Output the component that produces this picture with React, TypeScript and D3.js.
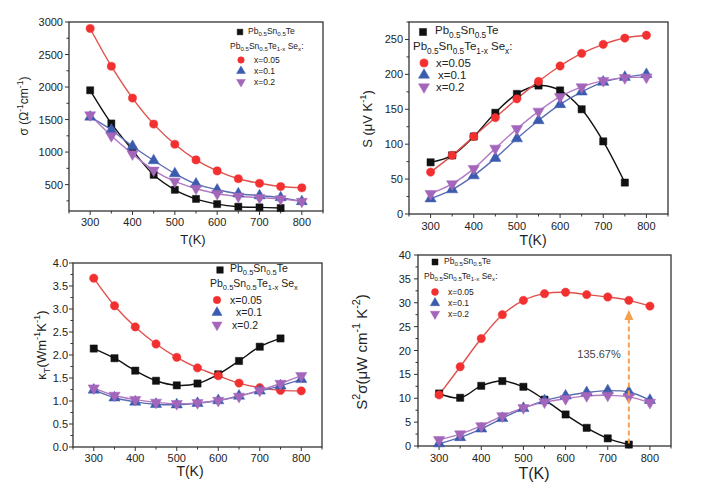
import React from "react";
import * as d3 from "d3";

// ---------- DATA ----------
const T_ALL = [300, 350, 400, 450, 500, 550, 600, 650, 700, 750, 800];
const T_REF = [300, 350, 400, 450, 500, 550, 600, 650, 700, 750];

// (a) electrical conductivity
const sigmaRef = [1950, 1440, 1030, 650, 420, 280, 200, 160, 150, 140];
const sigma005 = [2900, 2320, 1830, 1430, 1120, 880, 710, 590, 520, 470, 450];
const sigma01 = [1540, 1340, 1090, 870, 670, 510, 420, 360, 330, 300, 240];
const sigma02 = [1570, 1250, 970, 720, 550, 440, 360, 320, 300, 280, 240];

// (b) Seebeck
const seebeckRef = [74, 84, 111, 145, 172, 184, 177, 150, 104, 45];
const seebeck005 = [60, 84, 111, 138, 165, 190, 212, 230, 243, 252, 256];
const seebeck01 = [22, 35, 55, 80, 108, 134, 157, 175, 189, 196, 200];
const seebeck02 = [29, 43, 65, 94, 122, 147, 168, 182, 191, 195, 196];

// (c) thermal conductivity
const kappaRef = [2.14, 1.93, 1.66, 1.44, 1.34, 1.38, 1.58, 1.87, 2.18, 2.36];
const kappa005 = [3.67, 3.07, 2.61, 2.24, 1.95, 1.72, 1.55, 1.39, 1.29, 1.23, 1.22];
const kappa01 = [1.24, 1.07, 0.98, 0.93, 0.92, 0.95, 1.01, 1.11, 1.22, 1.33, 1.47];
const kappa02 = [1.28, 1.12, 1.03, 0.97, 0.94, 0.96, 1.01, 1.1, 1.23, 1.38, 1.55];

// (d) power factor
const pfRef = [11, 10.1, 12.6, 13.6, 12.4, 9.7, 6.6, 3.8, 1.6, 0.3];
const pf005 = [10.7, 16.6, 22.5, 27.5, 30.5, 31.9, 32.2, 31.7, 31.2, 30.5, 29.3];
const pf01 = [0.5, 1.8, 3.6, 5.8, 7.9, 9.5, 10.5, 11.2, 11.6, 11.3, 9.6];
const pf02 = [1.3, 2.5, 4.2, 6.3, 8.0, 9.2, 9.9, 10.5, 10.6, 10.3, 9.1];

const xTicks = [300, 400, 500, 600, 700, 800];
const sigmaTicks = [500, 1000, 1500, 2000, 2500, 3000];
const seebeckTicks = [0, 50, 100, 150, 200, 250];
const kappaTicks = [0, 0.5, 1, 1.5, 2, 2.5, 3, 3.5, 4];
const pfTicks = [0, 5, 10, 15, 20, 25, 30, 35, 40];

const legendLabels = ["x=0.05", "x=0.1", "x=0.2"];
const arrowT = 750;
const arrowFrom = 0.5;
const arrowTo = 28.5;
const arrowLabel = "135.67%";

// ---------- STYLE ----------
const FONT = "Liberation Sans, Arial, sans-serif";
const COLORS: any = {
  ref: { m: "#111111", l: "#111111" },
  a: { m: "#f23030", l: "#e0504c" },
  b: { m: "#3b5cae", l: "#5b6db2" },
  c: { m: "#a466bb", l: "#b278c4" },
};

type Seg = [string, "n" | "sub" | "sup"];

function Rich({ segs, x, y, fs, anchor = "start", rotate, fill = "#222" }: any) {
  const parts: any[] = [];
  let prev: string = "n";
  const off = (k: string) => (k === "sub" ? 0.3 : k === "sup" ? -0.45 : 0);
  segs.forEach((s: Seg, i: number) => {
    const [txt, kind] = s;
    const dy = (off(kind) - off(prev)) * fs;
    parts.push(
      <tspan key={i} dy={dy} fontSize={kind === "n" ? fs : fs * 0.72}>
        {txt}
      </tspan>
    );
    prev = kind;
  });
  return (
    <text
      x={x}
      y={y}
      fontFamily={FONT}
      fontSize={fs}
      textAnchor={anchor}
      fill={fill}
      transform={rotate ? `rotate(-90 ${x} ${y})` : undefined}
    >
      {parts}
    </text>
  );
}

const refSegs: Seg[] = [["Pb", "n"], ["0.5", "sub"], ["Sn", "n"], ["0.5", "sub"], ["Te", "n"]];
const alloySegs = (colon: boolean): Seg[] => [
  ["Pb", "n"], ["0.5", "sub"], ["Sn", "n"], ["0.5", "sub"], ["Te", "n"], ["1-x", "sub"],
  [" Se", "n"], ["x", "sub"], [colon ? ":" : "", "n"],
];

function markerPath(kind: string, size: number) {
  if (kind === "ref") return d3.symbol().type(d3.symbolSquare).size(size)()!;
  if (kind === "a") return d3.symbol().type(d3.symbolCircle).size(size * 1.05)()!;
  return d3.symbol().type(d3.symbolTriangle).size(size * 1.05)()!;
}

function Marker({ kind, x, y, size }: any) {
  const rot = kind === "c" ? ` rotate(180)` : "";
  return (
    <path
      d={markerPath(kind, size)}
      transform={`translate(${x},${y})${rot}`}
      fill={COLORS[kind].m}
      stroke={COLORS[kind].m}
      strokeWidth={0.5}
    />
  );
}

function Panel(p: any) {
  const x = d3.scaleLinear().domain([250, 850]).range([p.x0, p.x1]);
  const y = d3.scaleLinear().domain(p.yDomain).range([p.y1, p.y0]);
  const line = d3
    .line<[number, number]>()
    .x((d) => x(d[0]))
    .y((d) => y(d[1]))
    .curve(d3.curveCatmullRom.alpha(0.5));
  const series = [
    { k: "ref", t: T_REF, v: p.refData },
    { k: "a", t: T_ALL, v: p.a },
    { k: "b", t: T_ALL, v: p.b },
    { k: "c", t: T_ALL, v: p.c },
  ];
  const xMinor = d3.range(250, 851, 50);
  const yStep = p.yTicks[1] - p.yTicks[0];
  const half = yStep / 2;
  const yMinorAll = d3.range(Math.ceil(p.yDomain[0] / half - 1e-9) * half, p.yDomain[1] + 1e-9, half);
  const L = p.legend;
  const lfs = L.fs;
  return (
    <g>
      {yMinorAll.map((v: number, i: number) => {
        const major = p.yTicks.some((t: number) => Math.abs(t - v) < 1e-9);
        return (
          <line key={"ym" + i} x1={p.x0} x2={p.x0 - (major ? 4 : 2.5)} y1={y(v)} y2={y(v)} stroke="#333" strokeWidth={1} />
        );
      })}
      {xMinor.map((v: number, i: number) => {
        const major = xTicks.includes(v);
        return (
          <line key={"xm" + i} x1={x(v)} x2={x(v)} y1={p.y1} y2={p.y1 + (major ? 4 : 2.5)} stroke="#333" strokeWidth={1} />
        );
      })}
      {p.yTicks.map((v: number) => (
        <text key={"yt" + v} x={p.x0 - p.yGap} y={y(v) + 4} textAnchor="end" fontFamily={FONT} fontSize={p.tfs} fill="#222">
          {p.fmt ? p.fmt(v) : v}
        </text>
      ))}
      {xTicks.map((v) => (
        <text key={"xt" + v} x={x(v)} y={p.y1 + p.xGap} textAnchor="middle" fontFamily={FONT} fontSize={p.tfs} fill="#222">
          {v}
        </text>
      ))}
      <rect x={p.x0} y={p.y0} width={p.x1 - p.x0} height={p.y1 - p.y0} fill="none" stroke="#333" strokeWidth={1.3} />
      {series.map((s) => (
        <path
          key={"l" + s.k}
          d={line(s.t.map((t: number, i: number) => [t, s.v[i]]) as any)!}
          fill="none"
          stroke={COLORS[s.k].l}
          strokeWidth={1.4}
        />
      ))}
      {series.map((s) =>
        s.t.map((t: number, i: number) => (
          <Marker key={s.k + t} kind={s.k} x={x(t)} y={y(s.v[i])} size={p.ms} />
        ))
      )}
      {p.extra ? p.extra(x, y) : null}
      <text x={p.xt[0]} y={p.xt[1]} textAnchor="middle" fontFamily={FONT} fontSize={p.xtfs} fill="#222">
        T(K)
      </text>
      <Rich segs={p.ylabel} x={p.yt[0]} y={p.yt[1]} fs={p.ytfs} anchor="middle" rotate />
      <Marker kind="ref" x={L.mx} y={L.y[0]} size={L.ms} />
      <Rich segs={refSegs} x={L.tx0} y={L.y[0] + lfs * 0.2} fs={lfs} />
      <Rich segs={alloySegs(L.colon)} x={L.x2} y={L.y[1] + lfs * 0.2} fs={lfs} />
      {["a", "b", "c"].map((k, i) => (
        <g key={"lg" + k}>
          <Marker kind={k} x={L.mx2} y={L.y[2 + i]} size={L.ms} />
          <text x={L.tx[i]} y={L.y[2 + i] + lfs * 0.35} fontFamily={FONT} fontSize={lfs} fill="#222">
            {legendLabels[i]}
          </text>
        </g>
      ))}
    </g>
  );
}

export default function App() {
  return (
    <svg width={712} height={491} style={{ position: "absolute", left: 0, top: 0, background: "#fff" }}>
      <Panel
        x0={69} x1={323} y0={22} y1={211}
        yDomain={[94, 3000]} yTicks={sigmaTicks}
        refData={sigmaRef} a={sigma005} b={sigma01} c={sigma02}
        tfs={11} yGap={6} xGap={15} ms={50}
        xt={[193, 244]} xtfs={13}
        yt={[28, 106]} ytfs={12}
        ylabel={[["σ (Ω", "n"], ["-1", "sup"], ["cm", "n"], ["-1", "sup"], [")", "n"]]}
        legend={{ mx: 240, tx0: 248, x2: 230, mx2: 241, tx: [254, 254, 254], y: [32, 47, 60, 71, 82], fs: 8.5, ms: 32, colon: true }}
      />
      <Panel
        x0={409} x1={668} y0={22} y1={214}
        yDomain={[0, 275]} yTicks={seebeckTicks}
        refData={seebeckRef} a={seebeck005} b={seebeck01} c={seebeck02}
        tfs={11} yGap={6} xGap={16} ms={52}
        xt={[533, 245]} xtfs={14}
        yt={[372, 119]} ytfs={13}
        ylabel={[["S (μV K", "n"], ["-1", "sup"], [")", "n"]]}
        legend={{ mx: 423, tx0: 435, x2: 413, mx2: 424, tx: [436, 438, 436], y: [32, 48, 63, 75, 87], fs: 11.5, ms: 50, colon: true }}
      />
      <Panel
        x0={73} x1={322} y0={263} y1={447}
        yDomain={[0, 4]} yTicks={kappaTicks} fmt={(v: number) => v.toFixed(1)}
        refData={kappaRef} a={kappa005} b={kappa01} c={kappa02}
        tfs={11} yGap={5} xGap={15} ms={52}
        xt={[190, 476]} xtfs={14}
        yt={[46, 345]} ytfs={13}
        ylabel={[["κ", "n"], ["T", "sub"], ["(Wm", "n"], ["-1", "sup"], ["K", "n"], ["-1", "sup"], [")", "n"]]}
        legend={{ mx: 220, tx0: 230, x2: 210, mx2: 217, tx: [230, 236, 232], y: [270, 285, 300, 312.5, 325], fs: 10.5, ms: 42, colon: false }}
      />
      <Panel
        x0={418} x1={671} y0={255} y1={446}
        yDomain={[0, 40]} yTicks={pfTicks}
        refData={pfRef} a={pf005} b={pf01} c={pf02}
        tfs={11} yGap={7} xGap={16} ms={52}
        xt={[534, 479]} xtfs={16}
        yt={[367, 352]} ytfs={15}
        ylabel={[["S", "n"], ["2", "sup"], ["σ(μW cm", "n"], ["-1", "sup"], [" K", "n"], ["-2", "sup"], [")", "n"]]}
        legend={{ mx: 435, tx0: 444, x2: 424, mx2: 435, tx: [448, 448, 448], y: [262, 277, 292, 303, 314], fs: 8.5, ms: 36, colon: true }}
        extra={(x: any, y: any) => (
          <g>
            <line x1={x(arrowT)} x2={x(arrowT)} y1={y(arrowFrom)} y2={y(arrowTo) + 8} stroke="#f5a04a" strokeWidth={2} strokeDasharray="5,3" />
            <path d={`M${x(arrowT)},${y(arrowTo)} l-4.5,10 l9,0 z`} fill="#f5a04a" />
            <text x={599} y={358} textAnchor="middle" fontFamily={FONT} fontSize={11} fill="#444">
              {arrowLabel}
            </text>
          </g>
        )}
      />
    </svg>
  );
}
